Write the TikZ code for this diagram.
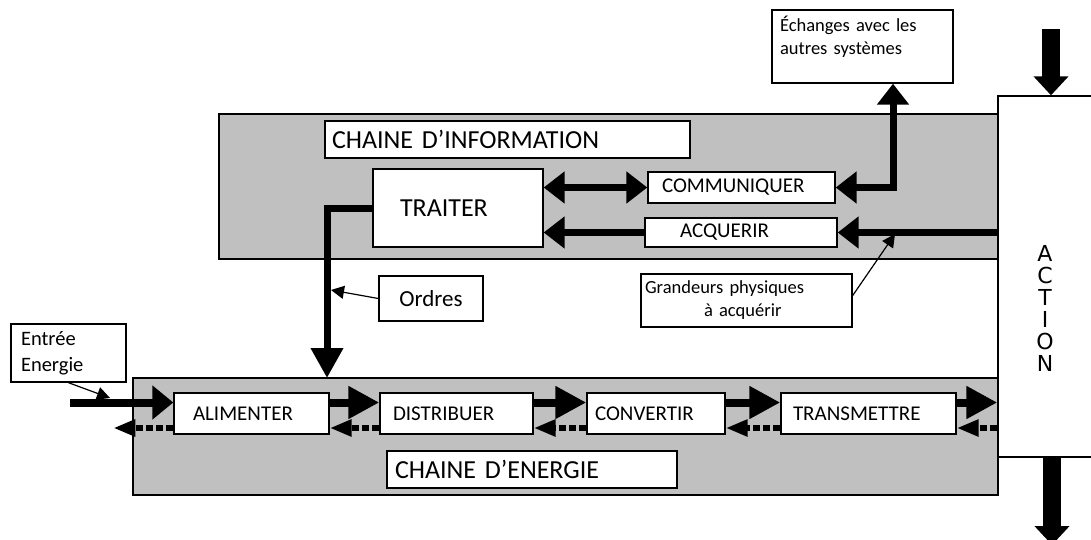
\documentclass[tikz,border=0pt]{standalone}
\usepackage{fontspec}
\setmainfont{Carlito}
\newfontfamily\actfont{DejaVu Sans}
\usetikzlibrary{arrows.meta}
\definecolor{gris}{RGB}{192,192,192}

\begin{document}
\begin{tikzpicture}[x=1pt, y=-1pt,
  chaine/.style = {draw, fill=gris, line width=1.4pt, inner sep=0pt},
  blk/.style = {draw, fill=white, line width=1.4pt, inner ysep=0pt, align=left},
  titre/.style = {blk, font=\fontsize{26}{30}\selectfont},
  fonc/.style = {blk, font=\fontsize{21}{25}\selectfont},
  note/.style = {blk, font=\fontsize{18.5}{23}\selectfont},
  infofl/.style = {line width=7pt, -{Triangle[length=21pt,width=31pt]}},
  infodbl/.style = {line width=7pt, {Triangle[length=21pt,width=31pt]}-{Triangle[length=21pt,width=31pt]}},
  nrj/.style = {line width=8pt, -{Triangle[length=31pt,width=31pt]}},
  retour/.style = {line width=6pt, dash pattern=on 7pt off 3pt, -{Triangle[length=22pt,width=16pt]}},
  fin/.style = {line width=1.2pt, -{Triangle[length=13pt,width=13pt]}},
  gros/.style = {line width=18pt, -{Triangle[length=19pt,width=34pt]}}]
\useasboundingbox (0,0) rectangle (1091,540);

% chaines
\node[chaine, minimum width=779pt, minimum height=145pt] (info) at (608.5,186.5) {};
\node[chaine, minimum width=865pt, minimum height=117pt] (energie) at (565.5,436.5) {};
\node[draw, fill=white, line width=1.4pt, minimum width=97pt, minimum height=361pt] (action) at (1046.5,276.5) {};
\node[font=\actfont\fontsize{22}{22}\selectfont, align=center] (acttxt) at (1045,308) {A\\C\\T\\I\\O\\N};

% chaine d'information
\node[titre, inner xsep=7pt, text width=351pt, minimum height=37pt] (titinfo) at (507.5,139.5) {CHAINE D’INFORMATION};
\node[titre, inner xsep=27pt, text width=116pt, minimum height=78pt] (traiter) at (458,208) {TRAITER};
\node[fonc, inner xsep=14pt, text width=159pt, minimum height=31pt] (comm) at (741.5,187.5) {COMMUNIQUER};
\node[fonc, inner xsep=35pt, text width=122pt, minimum height=29pt] (acq) at (741,232.5) {ACQUERIR};
\node[note, inner xsep=8pt, text width=165pt, minimum height=73pt] (echanges) at (862.5,46.5) {Échanges avec les\\autres systèmes\\\mbox{}};
\node[note, inner xsep=4pt, text width=203pt, minimum height=53pt] (grandeurs) at (746.5,300.5) {Grandeurs physiques\\\hspace*{59pt}à acquérir};
\node[blk, align=center, inner sep=0pt, minimum width=104pt, minimum height=45pt, font=\fontsize{23}{27}\selectfont] (ordres) at (431,298.5) {Ordres};

% chaine d'energie
\node[blk, font=\fontsize{20.5}{26}\selectfont, inner xsep=10pt, text width=95pt, minimum height=58pt] (entree) at (68.5,353) {Entrée\\Energie};
\node[fonc, inner xsep=19pt, text width=117pt, minimum height=41pt] (alim) at (251.5,413.5) {ALIMENTER};
\node[fonc, inner xsep=13pt, text width=127pt, minimum height=41pt] (distr) at (456.5,413.5) {DISTRIBUER};
\node[fonc, inner xsep=8pt, text width=122pt, minimum height=41pt] (conv) at (656,413.5) {CONVERTIR};
\node[fonc, inner xsep=12pt, text width=151pt, minimum height=41pt] (trans) at (868.5,413.5) {TRANSMETTRE};
\node[titre, inner xsep=8pt, text width=274pt, minimum height=37pt] (titener) at (532,469.5) {CHAINE D’ENERGIE};

\coordinate (entfl) at (70,402.5);
\coordinate (ordbas) at (327,378);
\coordinate (ordpt) at (331,290);
\coordinate (grpt) at (895,234);
\coordinate (entpt) at (110,398);
\coordinate (haut) at (1051,29);
\coordinate (bas) at (1052,545);

% information
\draw[infodbl] (traiter.east |- comm.west) -- (comm.west);
\draw[infofl] (acq.west) -- (traiter.east |- acq.west);
\draw[infofl] (action.west |- acq.east) -- (acq.east);
\draw[infodbl] (comm.east) -| ([xshift=30.5pt]echanges.south);
\draw[infofl, -{Triangle[length=30pt,width=31pt]}] (traiter.west) -| (ordbas);

% fleches fines
\draw[fin] (ordres.west) -- (ordpt);
\draw[fin] ([yshift=5pt]grandeurs.east) -- (grpt);
\draw[fin] (entree.south) -- (entpt);

% energie
\draw[nrj, -{Triangle[length=21pt,width=33pt]}] (entfl) -- ([yshift=11pt]alim.west);
\draw[nrj] ([yshift=11pt]alim.east) -- ([yshift=11pt]distr.west);
\draw[nrj] ([yshift=11pt]distr.east) -- ([yshift=11pt]conv.west);
\draw[nrj] ([yshift=11pt]conv.east) -- ([yshift=11pt]trans.west);
\draw[nrj] ([yshift=11pt]trans.east) -- ([yshift=11pt]trans.east -| action.west);

% retours
\draw[retour] ([yshift=-14.5pt]alim.west) -- ++(-60,0);
\draw[retour] ([yshift=-14.5pt]distr.west) -- ([yshift=-14.5pt]alim.east);
\draw[retour] ([yshift=-14.5pt]conv.west) -- ([yshift=-14.5pt]distr.east);
\draw[retour] ([yshift=-14.5pt]trans.west) -- ([yshift=-14.5pt]conv.east);
\draw[retour] ([yshift=-14.5pt]trans.east -| action.west) -- ([yshift=-14.5pt]trans.east);

% action
\draw[gros] (haut) -- (haut |- action.north);
\draw[gros] (bas |- action.south) -- (bas);
\end{tikzpicture}
\end{document}
